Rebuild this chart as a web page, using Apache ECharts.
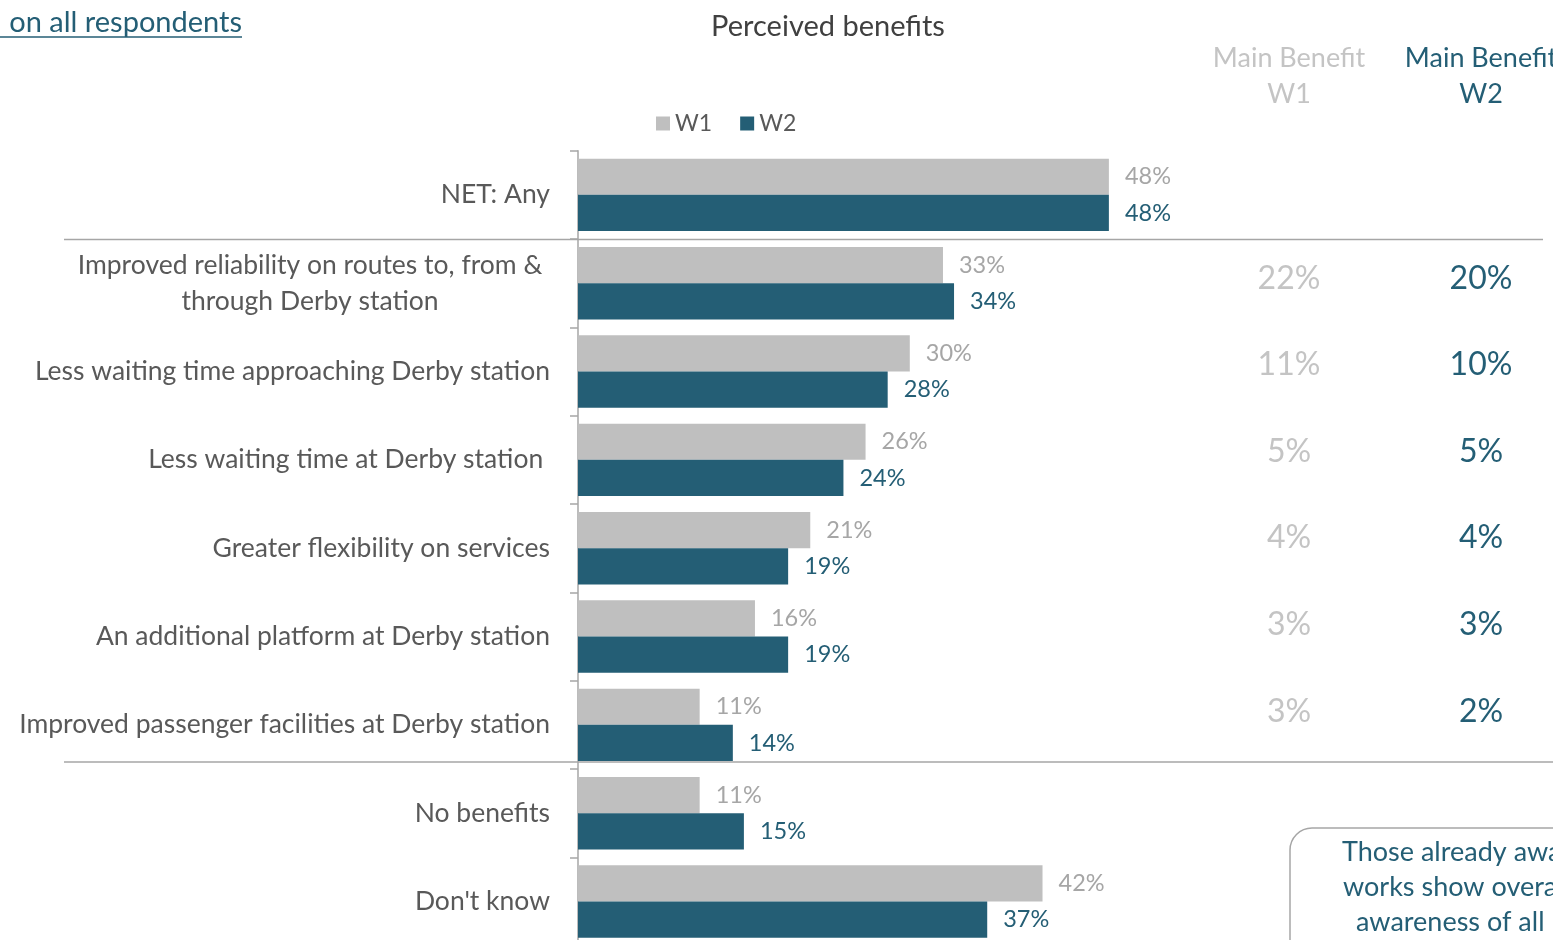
<!DOCTYPE html>
<html>
<head>
<meta charset="utf-8">
<script src="https://cdn.jsdelivr.net/npm/echarts@6/dist/echarts.min.js"></script>
<style>
  html, body { margin: 0; padding: 0; background: #fff; }
  #main { width: 1553px; height: 940px; }
</style>
</head>
<body>
<div id="main"></div>
<script>
  var categories = [
    'NET: Any',
    'Improved reliability on routes to, from & through Derby station',
    'Less waiting time approaching Derby station',
    'Less waiting time at Derby station ',
    'Greater flexibility on services',
    'An additional platform at Derby station',
    'Improved passenger facilities at Derby station',
    'No benefits',
    "Don't know"
  ];
  var w1 = [48, 33, 30, 26, 21, 16, 11, 11, 42];
  var w2 = [48, 34, 28, 24, 19, 19, 14, 15, 37];
  // main benefit columns, rows 2..7
  var mainW1 = [22, 11, 5, 4, 3, 3];
  var mainW2 = [20, 10, 5, 4, 3, 2];

  var grey = '#bfbfbf';
  var teal = '#245e75';
  var font = 'Lato';

  var chart = echarts.init(document.getElementById('main'));

  var option = {
    animation: false,
    textStyle: { fontFamily: font },
    title: {
      text: 'Perceived benefits',
      left: 823,
      top: 7,
      textAlign: 'center',
      textStyle: { fontFamily: font, fontWeight: 'normal', fontSize: 29, color: '#404040' }
    },
    legend: {
      data: ['W1', 'W2'],
      left: 651,
      top: 107,
      icon: 'rect',
      itemWidth: 14,
      itemHeight: 14,
      itemGap: 28,
      textStyle: { fontFamily: font, fontSize: 23, color: '#595959' }
    },
    grid: { left: 578, top: 150.7, width: 1106, height: 795, containLabel: false, outerBoundsMode: 'none' },
    xAxis: {
      type: 'value', min: 0, max: 100,
      show: false
    },
    yAxis: {
      type: 'category',
      data: categories,
      inverse: true,
      axisLine: { show: true, lineStyle: { color: '#a6a6a6', width: 1.5 } },
      axisTick: { show: true, length: 8, lineStyle: { color: '#a6a6a6', width: 1.5 } },
      axisLabel: {
        margin: 28,
        fontFamily: font,
        fontSize: 26.5,
        color: '#595959',
        formatter: function (v) {
          if (v.indexOf('Improved reliability') === 0) {
            return '{c|Improved reliability on routes to, from &}\n{c|through Derby station}';
          }
          return v;
        },
        rich: {
          c: { width: 480, align: 'center', fontFamily: font, fontSize: 26.5, color: '#595959', lineHeight: 36 }
        }
      }
    },
    series: [
      {
        name: 'W1', type: 'bar', data: w1,
        barGap: '0%', barCategoryGap: '18%',
        itemStyle: { color: grey },
        label: { show: true, position: 'right', distance: 16, formatter: '{c}%',
          fontFamily: font, fontSize: 23.5, color: '#a6a6a6' }
      },
      {
        name: 'W2', type: 'bar', data: w2,
        barGap: '0%', barCategoryGap: '18%',
        itemStyle: { color: teal },
        label: { show: true, position: 'right', distance: 16, formatter: '{c}%',
          fontFamily: font, fontSize: 23.5, color: teal }
      }
    ]
  };
  chart.setOption(option);

  // extra text and separators
  var g = [];
  g.push({ type: 'text', x: 242, y: 23,
    style: { text: 'Results based on all respondents', fill: teal, font: '29px Lato', textAlign: 'right', textVerticalAlign: 'middle' } });
  g.push({ type: 'line', shape: { x1: 0, y1: 37, x2: 242, y2: 37 }, style: { stroke: teal, lineWidth: 1.5 } });

  g.push({ type: 'line', shape: { x1: 64, y1: 239.5, x2: 1543, y2: 239.5 }, style: { stroke: '#a6a6a6', lineWidth: 1.5 } });
  g.push({ type: 'line', shape: { x1: 64, y1: 762, x2: 1553, y2: 762 }, style: { stroke: '#a6a6a6', lineWidth: 1.5 } });

  g.push({ type: 'text', x: 1289, y: 40,
    style: { text: 'Main Benefit\nW1', fill: '#c4c4c4', font: '27px Lato', textAlign: 'center', lineHeight: 36 } });
  g.push({ type: 'text', x: 1481, y: 40,
    style: { text: 'Main Benefit\nW2', fill: teal, font: '27px Lato', textAlign: 'center', lineHeight: 36 } });

  for (var i = 0; i < mainW1.length; i++) {
    var y = chart.convertToPixel({ yAxisIndex: 0 }, categories[i + 1]);
    var dy = -5 - i * 1.7;
    g.push({ type: 'text', x: 1289, y: y + dy,
      style: { text: mainW1[i] + '%', fill: '#c4c4c4', font: '32px Lato', textAlign: 'center', textVerticalAlign: 'middle' } });
    g.push({ type: 'text', x: 1481, y: y + dy,
      style: { text: mainW2[i] + '%', fill: teal, font: '32px Lato', textAlign: 'center', textVerticalAlign: 'middle' } });
  }

  g.push({ type: 'rect', shape: { x: 1290, y: 828, width: 320, height: 140, r: 22 },
    style: { fill: 'none', stroke: '#a6a6a6', lineWidth: 1.5 } });
  var boxLines = ['Those already aware of the', 'works show overall higher', 'awareness of all benefits'];
  var boxX = [1342, 1343, 1356];
  for (var k = 0; k < boxLines.length; k++) {
    g.push({ type: 'text', x: boxX[k], y: 852 + k * 35,
      style: { text: boxLines[k], fill: teal, font: '27px Lato', textAlign: 'left', textVerticalAlign: 'middle' } });
  }

  chart.setOption({ graphic: g });
</script>
</body>
</html>
